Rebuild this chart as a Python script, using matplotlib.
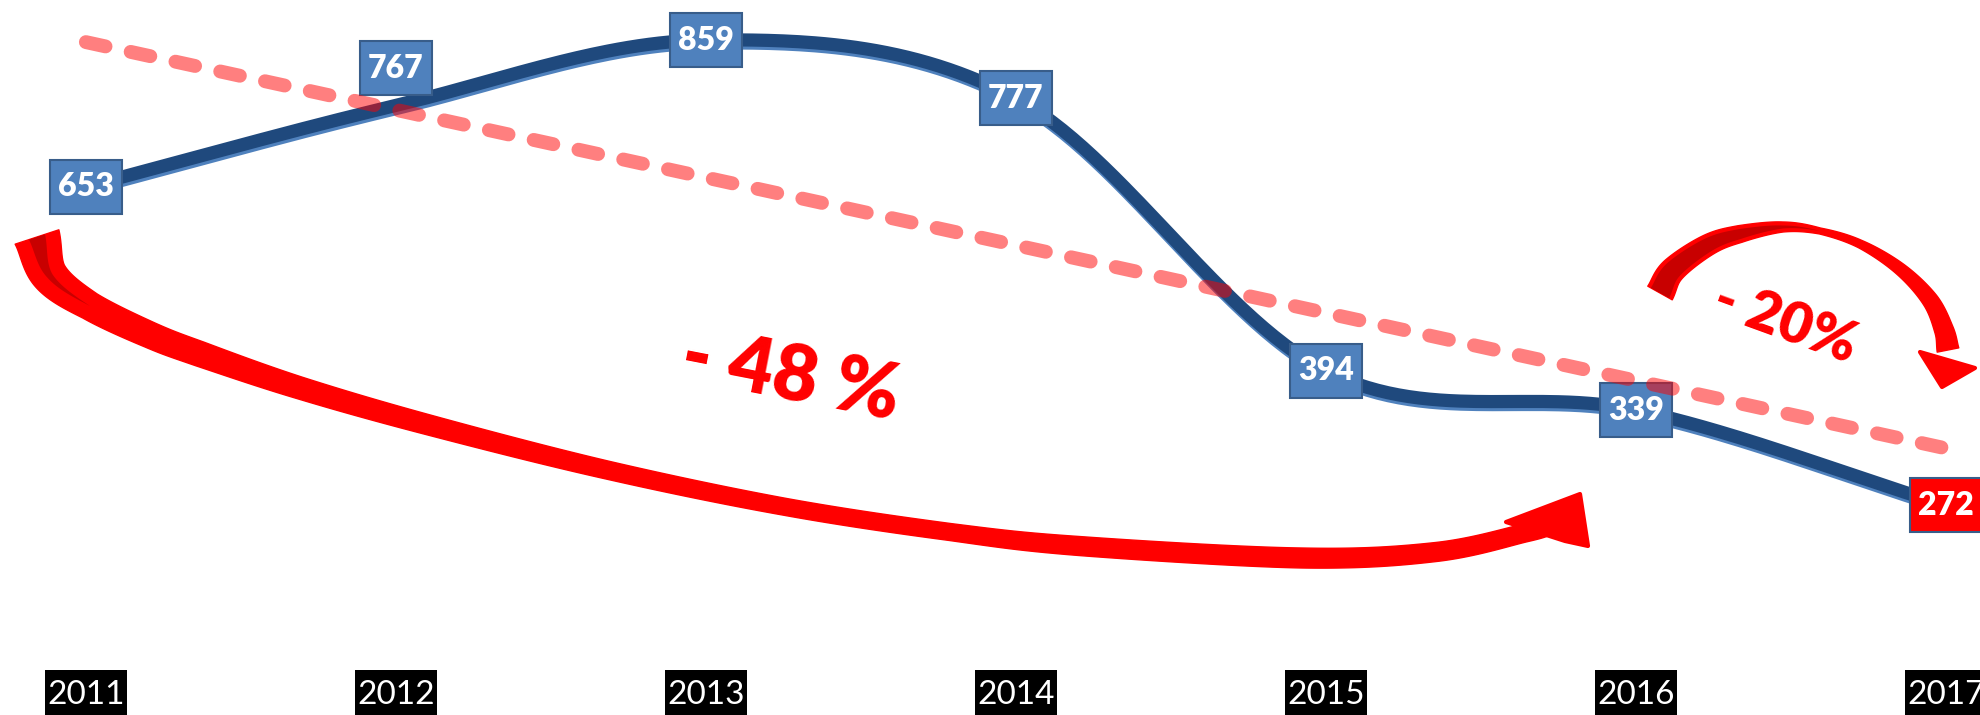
import numpy as np
import matplotlib
matplotlib.use('Agg')
import matplotlib.pyplot as plt
import matplotlib.patheffects as pe
from matplotlib.patches import Polygon
from matplotlib.path import Path

plt.rcParams['font.family'] = ['Lato', 'DejaVu Sans']

# ------------------------------------------------------------
# data
# ------------------------------------------------------------
years = [2011, 2012, 2013, 2014, 2015, 2016, 2017]
# numbers written in the boxes
box_labels = [653, 767, 859, 777, 394, 339, 272]
# height of the line as drawn (the 2017 point sits lower than its box says)
line_values = [653, 767, 859, 777, 394, 339, 205]

W, H = 1981, 715


def catmull_rom(x, y, n=60):
    """smooth curve through the points, like the 'smoothed line' option"""
    pts = np.column_stack([x, y]).astype(float)
    p = np.vstack([2 * pts[0] - pts[1], pts, 2 * pts[-1] - pts[-2]])
    t = np.linspace(0, 1, n, endpoint=False)[:, None]
    out, par = [], []
    for i in range(1, len(p) - 2):
        p0, p1, p2, p3 = p[i - 1], p[i], p[i + 1], p[i + 2]
        seg = 0.5 * (2 * p1 + (-p0 + p2) * t
                     + (2 * p0 - 5 * p1 + 4 * p2 - p3) * t ** 2
                     + (-p0 + 3 * p1 - 3 * p2 + p3) * t ** 3)
        out.append(seg)
        par.append(i - 1 + t[:, 0])
    out.append(p[-2][None, :])
    par.append([len(pts) - 1])
    return np.vstack(out), np.concatenate(par)


def rect_box(padx, pady):
    """box style with separate horizontal / vertical padding"""
    def style(x0, y0, width, height, mutation_size):
        px, py = padx * mutation_size, pady * mutation_size
        a, b = x0 - px, y0 - py
        c, d = x0 + width + px, y0 + height + py
        return Path([(a, b), (c, b), (c, d), (a, d), (a, b)], closed=True)
    return style


fig = plt.figure(figsize=(W / 100, H / 100), dpi=100)
ax = fig.add_axes([0, 0, 1, 1])
ax.set_xlim(2010.723, 2017.113)
ax.set_ylim(-89.7, 915.3)
ax.axis('off')

# main line with a lighter blue edge underneath
curve, _ = catmull_rom(years, line_values)
ax.plot(curve[:, 0], curve[:, 1], color='#1F497D', lw=9.5,
        solid_capstyle='butt', zorder=2,
        path_effects=[pe.SimpleLineShadow(offset=(0.6, -2.2),
                                          shadow_color='#4F81BD', alpha=1),
                      pe.Normal()])

# value boxes
label_raise = {2012: 27}   # points, the 2012 box sits above the line
for yr, val, lab in zip(years, line_values, box_labels):
    face = '#FF0000' if yr == 2017 else '#4F81BD'
    ax.annotate(str(lab), (yr, val), xytext=(0, label_raise.get(yr, 0)),
                textcoords='offset points', ha='center', va='center',
                fontsize=23, fontweight='heavy', color='white', zorder=5,
                bbox=dict(boxstyle=rect_box(0.25, 0.39), fc=face,
                          ec='#385D8A', lw=1.5))

# linear trend of the plotted series
idx = np.arange(len(years))
slope, icpt = np.polyfit(idx, line_values, 1)
trend = icpt + slope * idx
ax.plot([years[0], years[-1]], [trend[0], trend[-1]], color='red',
        alpha=0.5, lw=10, dashes=(1.45, 1.85), dash_capstyle='round',
        zorder=6)

# year labels along the bottom
for yr in years:
    ax.text(yr, 0.028, str(yr), transform=ax.get_xaxis_transform(),
            ha='center', va='center', fontsize=24, color='white', zorder=5,
            bbox=dict(boxstyle=rect_box(0.06, 0.3), fc='black', ec='none'))


# ------------------------------------------------------------
# curved red arrows (figure pixels, measured from the top-left)
# ------------------------------------------------------------
def ribbon(path, widths):
    d = np.gradient(path, axis=0)
    d /= np.hypot(d[:, 0], d[:, 1])[:, None]
    nrm = np.column_stack([-d[:, 1], d[:, 0]])
    left = path + nrm * widths[:, None] / 2
    right = path - nrm * widths[:, None] / 2
    return np.vstack([left, right[::-1]])


def add_shape(poly_px, **kw):
    frac = poly_px / np.array([W, H])
    ax.add_patch(Polygon(frac, closed=True, transform=fig.transFigure,
                         joinstyle='round', **kw))


def curved_arrow(centre, widths, dark, head):
    c = np.asarray(centre, float)
    c[:, 1] = H - c[:, 1]
    path, u = catmull_rom(c[:, 0], c[:, 1], n=80)
    k = np.arange(len(c))
    w = np.interp(u, k, widths)
    dk = np.interp(u, k, dark)
    add_shape(ribbon(path, w), fc='red', ec='red', lw=1, zorder=4)
    keep = dk > 0
    if keep.any():
        add_shape(ribbon(path[keep], dk[keep]), fc='#C80000', ec='none',
                  zorder=4)
    hd = np.asarray(head, float)
    hd[:, 1] = H - hd[:, 1]
    add_shape(hd, fc='red', ec='red', lw=3, zorder=4)


# - 48 % : from 2011 round under the chart to 2016
curved_arrow(
    centre=[(37, 237), (50, 276), (90, 306), (150, 335),
            (200, 354), (300, 388), (429, 425), (607, 470), (786, 507),
            (950, 532), (1079, 546), (1302, 558), (1436, 552), (1525, 533),
            (1550, 526)],
    widths=[46, 36, 28, 26, 25, 22, 20, 18, 17, 17, 19, 20, 19, 18, 18],
    dark=[17, 6, 0, 0, 0, 0, 0, 0, 0, 0, 0, 0, 0, 0, 0],
    head=[(1506, 522), (1580, 494), (1588, 546), (1565, 541)])

# - 20% : from 2016 over to 2017
curved_arrow(
    centre=[(1660, 293), (1673, 270), (1708, 245), (1740, 234), (1783, 227),
            (1820, 231), (1860, 244), (1900, 269), (1930, 300), (1944, 330),
            (1948, 350)],
    widths=[28, 25, 21, 17, 10, 6, 8, 12, 16, 19, 22],
    dark=[21, 18, 14, 10, 3, 0, 0, 0, 0, 0, 0],
    head=[(1920, 352), (1975, 368), (1942, 387)])

ax.text(790 / W, 1 - 377 / H, '- 48 %', transform=ax.transAxes,
        rotation=-11, rotation_mode='anchor', ha='center', va='center',
        fontsize=56, fontweight='heavy', color='red', zorder=7)
ax.text(1785 / W, 1 - 322 / H, '- 20%', transform=ax.transAxes,
        rotation=-20, rotation_mode='anchor', ha='center', va='center',
        fontsize=41, fontweight='heavy', color='red', zorder=7)

fig.savefig('out.png', dpi=100, facecolor='white')
